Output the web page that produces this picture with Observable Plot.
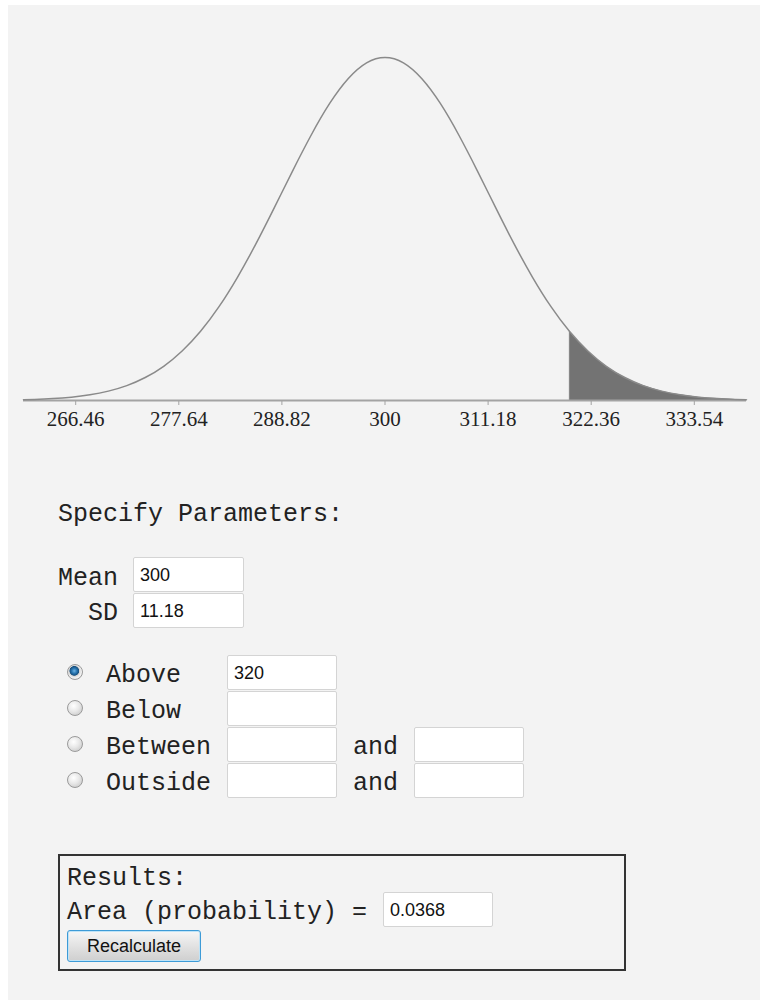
<!DOCTYPE html>
<html>
<head>
<meta charset="utf-8">
<script src="https://cdn.jsdelivr.net/npm/d3@7"></script>
<script src="https://cdn.jsdelivr.net/npm/@observablehq/plot@0.6"></script>
<style>
  body { margin: 0; background: #ffffff; width: 760px; height: 1000px; position: relative; overflow: hidden; }
  #bg { position: absolute; left: 8px; top: 5px; width: 752px; height: 995px; background: #f3f3f3; }
  #chart { position: absolute; left: 0; top: 0; }
  .mono { position: absolute; font-family: "Liberation Mono", "Courier New", monospace; font-size: 25px; line-height: 25px; color: #222; white-space: pre; }
  .box { position: absolute; box-sizing: border-box; background: #fff; border: 1px solid #d4d4d4; border-radius: 2px;
         font-family: "Liberation Sans", Arial, sans-serif; font-size: 18px; color: #111; display: flex; align-items: center; padding-left: 6px; padding-top: 1px; }
  .radio { position: absolute; width: 16px; height: 16px; border-radius: 50%; box-sizing: border-box; border: 1px solid #9a9a9a;
           background: radial-gradient(circle at 40% 35%, #ffffff 0%, #e8e8e8 45%, #c0c0c0 100%); }
  .radio.on { background: radial-gradient(circle at 45% 42%, #6fb3e3 0%, #2a78b3 22%, #17507f 40%, #d6d6d6 46%, #f4f4f4 65%, #b8b8b8 100%); }
  #results { position: absolute; left: 58px; top: 854px; width: 568px; height: 117px; box-sizing: border-box; border: 2px solid #333; }
  #btn { position: absolute; left: 67px; top: 930px; width: 134px; height: 32px; box-sizing: border-box; border: 1px solid #3d9bd7; border-radius: 3px;
         background: linear-gradient(#f6f6f6, #e2e2e2 50%, #cfcfcf); font-family: "Liberation Sans", Arial, sans-serif; font-size: 18px; color: #111;
         display: flex; align-items: center; justify-content: center; box-shadow: inset 0 0 0 1px #bfe3f7; }
</style>
</head>
<body>
<div id="bg"></div>
<div id="chart"></div>

<div class="mono" style="left:58px; top:502px;">Specify Parameters:</div>
<div class="mono" style="left:58px; top:566px;">Mean</div>
<div class="box" style="left:133px; top:557px; width:111px; height:35px;">300</div>
<div class="mono" style="left:88px; top:601px;">SD</div>
<div class="box" style="left:133px; top:593px; width:111px; height:35px;">11.18</div>

<div class="radio on" style="left:67px; top:664px;"></div>
<div class="mono" style="left:106px; top:663px;">Above</div>
<div class="box" style="left:227px; top:655px; width:110px; height:35px;">320</div>

<div class="radio" style="left:67px; top:700px;"></div>
<div class="mono" style="left:106px; top:699px;">Below</div>
<div class="box" style="left:227px; top:691px; width:110px; height:35px;"></div>

<div class="radio" style="left:67px; top:736px;"></div>
<div class="mono" style="left:106px; top:735px;">Between</div>
<div class="box" style="left:227px; top:727px; width:110px; height:35px;"></div>
<div class="mono" style="left:353px; top:735px;">and</div>
<div class="box" style="left:414px; top:727px; width:110px; height:35px;"></div>

<div class="radio" style="left:67px; top:772px;"></div>
<div class="mono" style="left:106px; top:771px;">Outside</div>
<div class="box" style="left:227px; top:763px; width:110px; height:35px;"></div>
<div class="mono" style="left:353px; top:771px;">and</div>
<div class="box" style="left:414px; top:763px; width:110px; height:35px;"></div>

<div id="results"></div>
<div class="mono" style="left:67px; top:866px;">Results:</div>
<div class="mono" style="left:67px; top:900px;">Area (probability) =</div>
<div class="box" style="left:383px; top:892px; width:110px; height:35px;">0.0368</div>
<div id="btn">Recalculate</div>

<script>
// ---- data ----
const mean = 300;
const sd = 11.18;
const threshold = 320;

const curveX = [260.8, 262, 264, 266, 268, 270, 272, 274, 276, 278, 280, 282, 284, 286, 288, 290, 292, 294, 296, 298,
                300, 302, 304, 306, 308, 310, 312, 314, 316, 318, 320, 322, 324, 326, 328, 330, 332, 334, 336, 338, 339.2];
const curveDensity = [0.0000764, 0.000111, 0.000200, 0.000350, 0.000594, 0.000975, 0.00155, 0.00239, 0.00356, 0.00515,
                      0.00720, 0.00976, 0.01282, 0.01629, 0.02006, 0.02392, 0.02762, 0.03090, 0.03347, 0.03512,
                      0.03568, 0.03512, 0.03347, 0.03090, 0.02762, 0.02392, 0.02006, 0.01629, 0.01282, 0.00976,
                      0.00720, 0.00515, 0.00356, 0.00239, 0.00155, 0.000975, 0.000594, 0.000350, 0.000200, 0.000111, 0.0000764];

const tickValues = [266.46, 277.64, 288.82, 300, 311.18, 322.36, 333.54];
const tickLabels = ["266.46", "277.64", "288.82", "300", "311.18", "322.36", "333.54"];

// ---- build table ----
const curve = curveX.map((x, i) => ({x, y: curveDensity[i]}));
const tail = curve.filter(d => d.x >= threshold);
const labelOf = new Map(tickValues.map((v, i) => [v, tickLabels[i]]));

const chart = Plot.plot({
  width: 760,
  height: 440,
  marginLeft: 23,
  marginRight: 14,
  marginTop: 57,
  marginBottom: 40,
  style: {background: "transparent", overflow: "visible"},
  x: {domain: [curveX[0], curveX[curveX.length - 1]]},
  y: {domain: [0, curveDensity[20]], axis: null},
  marks: [
    Plot.areaY(tail, {x: "x", y: "y", fill: "#737373", curve: "natural"}),
    Plot.ruleX([threshold], {y1: 0, y2: tail[0].y, stroke: "#8a8a8a", strokeWidth: 1}),
    Plot.ruleY([0], {stroke: "#a3a3a3", strokeWidth: 2}),
    Plot.line(curve, {x: "x", y: "y", stroke: "#8a8a8a", strokeWidth: 1.5, curve: "natural"}),
    Plot.axisX({
      ticks: tickValues,
      tickFormat: v => labelOf.get(v),
      tickSize: 5,
      tickPadding: 6,
      stroke: "#a3a3a3",
      fill: "#222",
      fontSize: 21,
      fontFamily: "'Liberation Serif', 'Times New Roman', serif",
      label: null
    })
  ]
});
document.getElementById("chart").appendChild(chart);
</script>
</body>
</html>
